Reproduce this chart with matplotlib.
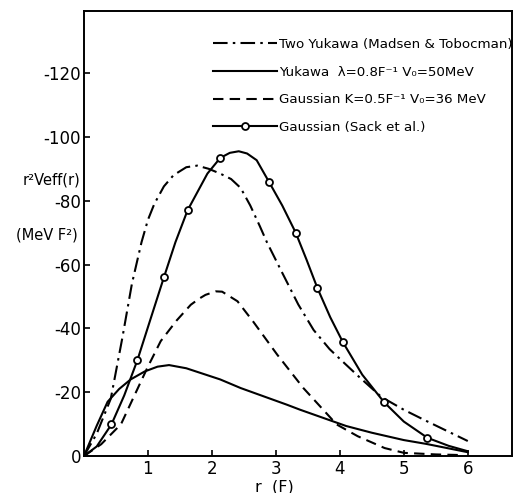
import matplotlib
matplotlib.use("Agg")
import matplotlib.pyplot as plt

# values (r in F, r^2 Veff in MeV F^2)
two_yukawa_r = [0, 0.2, 0.42, 0.6, 0.75, 0.9, 1.0, 1.1, 1.25, 1.4, 1.6,
                1.77, 1.95, 2.13, 2.3, 2.45, 2.6, 2.75, 2.86, 3.09, 3.35,
                3.59, 3.84, 4.05, 4.29, 4.65, 5.0, 5.3, 6.0]
two_yukawa_v = [0, -7, -18, -37, -54, -67, -74, -79, -84.5, -88, -90.5,
                -91, -90, -88.5, -86.8, -84, -78.5, -72, -67, -57.8, -47.5,
                -39.5, -33.5, -29.5, -25, -18.5, -14.5, -11.5, -4.7]

yukawa_r = [0, 0.2, 0.37, 0.55, 0.73, 0.95, 1.15, 1.33, 1.6, 2.13, 2.45,
            3.17, 3.38, 4.1, 4.5, 5.0, 5.35, 6.0]
yukawa_v = [0, -9.5, -17, -21, -24, -26.5, -28, -28.5, -27.5, -24, -21.3,
            -16.1, -14.5, -9.4, -7.3, -5, -3.8, -1.2]

gauss_r = [0, 0.27, 0.58, 0.99, 1.2, 1.45, 1.67, 1.8, 1.9, 2.06, 2.16,
           2.4, 2.65, 3.02, 3.43, 3.95, 4.28, 4.7, 5.0, 5.5, 5.9]
gauss_v = [0, -3.7, -10, -27.6, -36, -42.5, -47.4, -49.3, -50.5, -51.6,
           -51.5, -48.5, -42, -31.8, -21.3, -9.9, -6.2, -2.5, -1, -0.5, -0.3]

sack_r = [0, 0.2, 0.43, 0.63, 0.835, 1.05, 1.25, 1.43, 1.62, 1.93, 2.13,
          2.28, 2.42, 2.55, 2.7, 2.89, 3.1, 3.31, 3.48, 3.65, 3.85, 4.05,
          4.35, 4.69, 5.0, 5.37, 5.7, 6.0]
sack_v = [0, -3, -9.9, -19, -30, -43.5, -56, -67, -77, -88.5, -93.4,
          -95, -95.5, -94.8, -92.7, -86, -78.5, -70, -61.5, -52.6, -43.5,
          -35.6, -25.5, -16.9, -10.8, -5.7, -3.2, -1.5]
# points drawn as open circles
sack_pts_r = [0.43, 0.835, 1.25, 1.62, 2.13, 2.89, 3.31, 3.65, 4.05, 4.69, 5.37]
sack_pts_v = [-9.9, -30, -56, -77, -93.4, -86, -70, -52.6, -35.6, -16.9, -5.7]

x_ticks = [1, 2, 3, 4, 5, 6]
y_ticks = [0, -20, -40, -60, -80, -100, -120]

labels = ["Two Yukawa (Madsen & Tobocman)",
          "Yukawa  λ=0.8F⁻¹ V₀=50MeV",
          "Gaussian K=0.5F⁻¹ V₀=36 MeV",
          "Gaussian (Sack et al.)"]


def main():
    plt.rcParams['axes.unicode_minus'] = False
    plt.rcParams['font.family'] = ['DejaVu Sans']

    fig = plt.figure(figsize=(5.15, 4.93), dpi=100)
    ax = fig.add_axes([0.163, 0.075, 0.831, 0.903])

    lw = 1.5
    ax.plot(two_yukawa_r, two_yukawa_v, color='black', lw=lw,
            dashes=(7, 2.5, 1.2, 2.5), label=labels[0])
    ax.plot(yukawa_r, yukawa_v, color='black', lw=lw, label=labels[1])
    ax.plot(gauss_r, gauss_v, color='black', lw=lw, dashes=(5, 3),
            label=labels[2])
    ax.plot(sack_r, sack_v, color='black', lw=lw)
    ax.plot(sack_pts_r, sack_pts_v, 'o', color='black', mfc='white',
            ms=5, mew=1.3)
    # legend entry for the sack curve (line with circle)
    ax.plot([], [], '-o', color='black', lw=lw, mfc='white', ms=5,
            mew=1.3, label=labels[3])

    ax.set_xlim(0, 6.69)
    ax.set_ylim(0, -139.5)
    ax.set_xticks(x_ticks)
    ax.set_yticks(y_ticks)
    ax.set_yticklabels([str(v) for v in y_ticks])
    ax.tick_params(direction='in', length=4, width=1.2, labelsize=12,
                   pad=3)
    ax.tick_params(axis='y', pad=2)
    for s in ax.spines.values():
        s.set_linewidth(1.4)

    ax.legend(loc='upper left', bbox_to_anchor=(213 / 515, 1 - 38 / 493),
              bbox_transform=fig.transFigure, frameon=False, fontsize=9.6,
              borderpad=0, borderaxespad=0, handlelength=4.8,
              handletextpad=0.15, labelspacing=1.1, numpoints=1)

    fig.text(80 / 515, 1 - 180 / 493, "r²Veff(r)", ha='right',
             va='center', fontsize=10.5)
    fig.text(78 / 515, 1 - 235 / 493, "(MeV F²)", ha='right',
             va='center', fontsize=10.5)
    fig.text(274 / 515, 1 - 487 / 493, "r  (F)", ha='center',
             va='center', fontsize=11.5)

    fig.savefig("out.png", dpi=100)


if __name__ == "__main__":
    main()
